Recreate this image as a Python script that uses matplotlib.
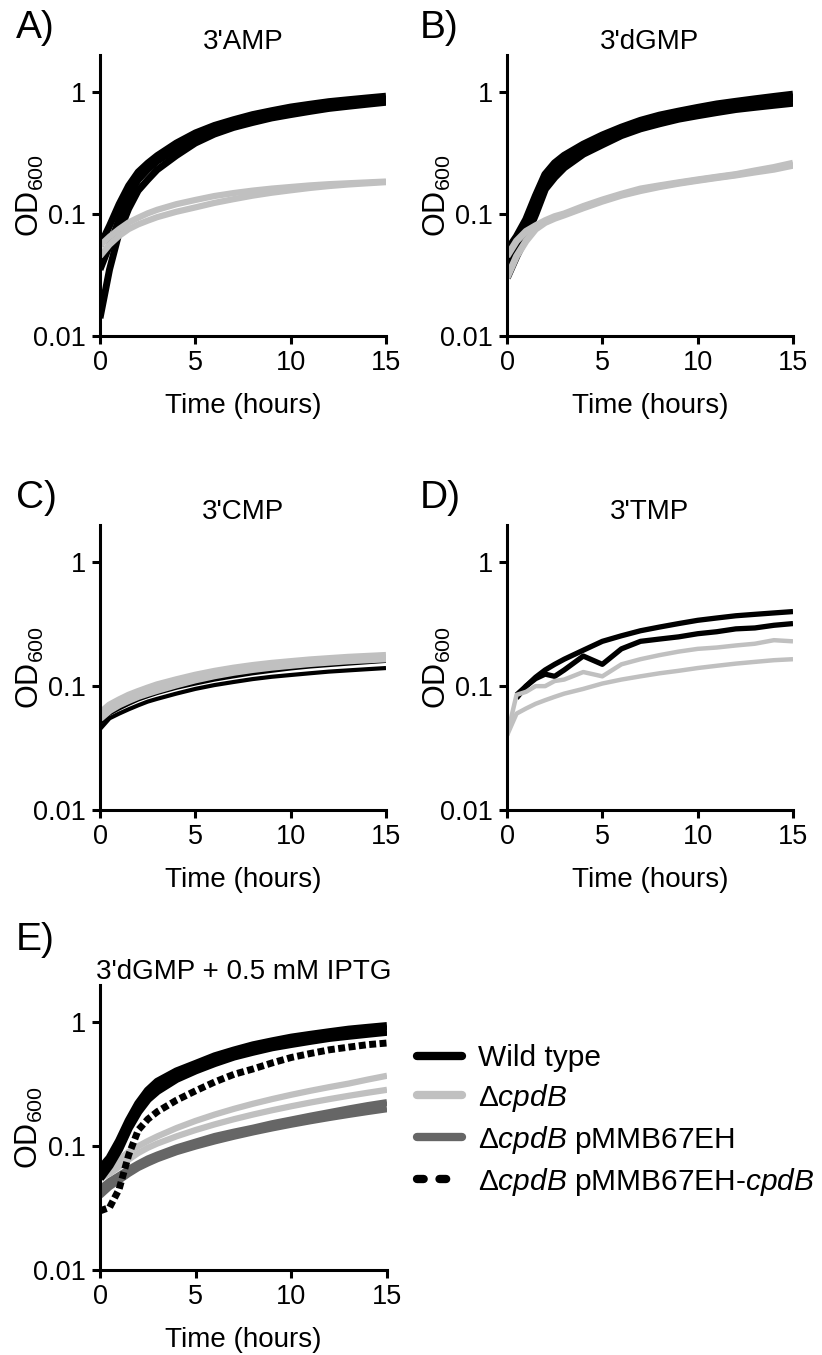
import matplotlib
matplotlib.use("Agg")
import matplotlib.pyplot as plt
import numpy as np
from matplotlib.lines import Line2D
from matplotlib.ticker import NullLocator

plt.rcParams["font.family"] = ["Liberation Sans", "DejaVu Sans"]
plt.rcParams["mathtext.fontset"] = "custom"
plt.rcParams["mathtext.rm"] = "Liberation Sans"
plt.rcParams["mathtext.it"] = "Liberation Sans:italic"

BLACK = "#000000"
LIGHT = "#c0c0c0"
DARK = "#666666"

# sampling times (hours), shared by every panel
time_h = [0, 0.5, 1, 1.5, 2, 2.5, 3, 4, 5, 6, 7, 8, 9, 10, 11, 12, 13, 14, 15]

# A) 3'AMP
amp_wt = [
    [0.055, 0.08, 0.12, 0.17, 0.22, 0.26, 0.30, 0.38, 0.46, 0.53, 0.59, 0.65, 0.70, 0.75, 0.79, 0.83, 0.86, 0.89, 0.92],
    [0.035, 0.055, 0.09, 0.14, 0.19, 0.23, 0.27, 0.34, 0.41, 0.48, 0.54, 0.59, 0.64, 0.68, 0.72, 0.76, 0.79, 0.82, 0.85],
    [0.014, 0.035, 0.07, 0.11, 0.155, 0.19, 0.23, 0.30, 0.38, 0.45, 0.51, 0.56, 0.61, 0.65, 0.69, 0.73, 0.76, 0.79, 0.82],
]
amp_dcpdb = [
    [0.055, 0.065, 0.075, 0.085, 0.093, 0.101, 0.108, 0.12, 0.13, 0.14, 0.148, 0.155, 0.161, 0.166, 0.171, 0.175, 0.178, 0.181, 0.184],
    [0.045, 0.056, 0.066, 0.075, 0.082, 0.088, 0.094, 0.104, 0.113, 0.123, 0.132, 0.141, 0.149, 0.156, 0.163, 0.169, 0.174, 0.178, 0.182],
]

# B) 3'dGMP
dgmp_wt = [
    [0.05, 0.065, 0.09, 0.14, 0.21, 0.26, 0.30, 0.37, 0.44, 0.51, 0.58, 0.64, 0.69, 0.74, 0.79, 0.83, 0.87, 0.91, 0.95],
    [0.04, 0.055, 0.075, 0.12, 0.18, 0.23, 0.27, 0.34, 0.41, 0.48, 0.54, 0.60, 0.65, 0.70, 0.74, 0.78, 0.82, 0.85, 0.88],
    [0.03, 0.045, 0.065, 0.10, 0.16, 0.20, 0.24, 0.31, 0.37, 0.44, 0.50, 0.55, 0.60, 0.64, 0.68, 0.72, 0.75, 0.78, 0.81],
]
dgmp_dcpdb = [
    [0.045, 0.06, 0.072, 0.08, 0.088, 0.095, 0.10, 0.115, 0.13, 0.145, 0.16, 0.17, 0.18, 0.19, 0.20, 0.21, 0.225, 0.24, 0.26],
    [0.03, 0.045, 0.06, 0.075, 0.085, 0.092, 0.098, 0.112, 0.127, 0.142, 0.155, 0.167, 0.178, 0.188, 0.198, 0.208, 0.22, 0.232, 0.25],
]

# C) 3'CMP
cmp_wt = [
    [0.05, 0.06, 0.066, 0.072, 0.078, 0.083, 0.088, 0.097, 0.105, 0.113, 0.12, 0.127, 0.133, 0.139, 0.144, 0.148, 0.152, 0.156, 0.16],
    [0.045, 0.055, 0.06, 0.065, 0.07, 0.075, 0.079, 0.087, 0.095, 0.102, 0.108, 0.114, 0.119, 0.123, 0.127, 0.131, 0.134, 0.137, 0.14],
]
cmp_dcpdb = [
    [0.06, 0.07, 0.077, 0.084, 0.09, 0.096, 0.102, 0.112, 0.122, 0.131, 0.139, 0.146, 0.152, 0.157, 0.162, 0.166, 0.17, 0.173, 0.176],
    [0.055, 0.064, 0.071, 0.077, 0.083, 0.088, 0.093, 0.103, 0.113, 0.122, 0.13, 0.137, 0.143, 0.148, 0.153, 0.157, 0.161, 0.164, 0.167],
]

# D) 3'TMP
tmp_wt = [
    [np.nan, 0.085, 0.10, 0.118, 0.135, 0.15, 0.165, 0.195, 0.23, 0.255, 0.28, 0.30, 0.32, 0.34, 0.355, 0.37, 0.38, 0.39, 0.40],
    [np.nan, 0.08, 0.10, 0.115, 0.125, 0.12, 0.135, 0.175, 0.15, 0.20, 0.23, 0.24, 0.25, 0.265, 0.275, 0.29, 0.295, 0.31, 0.32],
]
tmp_dcpdb = [
    [0.04, 0.085, 0.09, 0.10, 0.10, 0.11, 0.113, 0.13, 0.12, 0.15, 0.165, 0.178, 0.19, 0.20, 0.205, 0.213, 0.22, 0.235, 0.23],
    [0.04, 0.06, 0.066, 0.072, 0.077, 0.082, 0.087, 0.095, 0.105, 0.113, 0.12, 0.127, 0.133, 0.14, 0.146, 0.152, 0.157, 0.162, 0.165],
]

# E) 3'dGMP + 0.5 mM IPTG
iptg_wt = [
    [0.065, 0.08, 0.11, 0.16, 0.22, 0.28, 0.33, 0.40, 0.46, 0.53, 0.59, 0.65, 0.70, 0.75, 0.79, 0.83, 0.87, 0.90, 0.93],
    [0.055, 0.07, 0.095, 0.14, 0.19, 0.24, 0.28, 0.35, 0.41, 0.47, 0.53, 0.58, 0.63, 0.67, 0.71, 0.75, 0.78, 0.81, 0.84],
]
iptg_dcpdb = [
    [0.06, 0.068, 0.078, 0.09, 0.10, 0.11, 0.12, 0.14, 0.16, 0.18, 0.20, 0.22, 0.24, 0.26, 0.28, 0.30, 0.32, 0.345, 0.37],
    [0.055, 0.06, 0.068, 0.078, 0.088, 0.097, 0.105, 0.12, 0.135, 0.15, 0.165, 0.18, 0.195, 0.21, 0.225, 0.24, 0.255, 0.27, 0.285],
]
iptg_vector = [
    [0.045, 0.052, 0.058, 0.065, 0.072, 0.079, 0.085, 0.097, 0.108, 0.12, 0.13, 0.14, 0.152, 0.163, 0.175, 0.187, 0.20, 0.213, 0.225],
    [0.04, 0.047, 0.053, 0.06, 0.067, 0.073, 0.079, 0.09, 0.10, 0.11, 0.12, 0.13, 0.14, 0.15, 0.16, 0.17, 0.18, 0.19, 0.20],
]
iptg_complement = [
    [0.03, 0.032, 0.045, 0.085, 0.135, 0.165, 0.19, 0.235, 0.28, 0.33, 0.38, 0.42, 0.47, 0.52, 0.56, 0.60, 0.63, 0.66, 0.68],
]

legend_labels = [
    "Wild type",
    "Δ$\\mathit{cpdB}$",
    "Δ$\\mathit{cpdB}$ pMMB67EH",
    "Δ$\\mathit{cpdB}$ pMMB67EH-$\\mathit{cpdB}$",
]

FIG_W, FIG_H = 822, 1355


def px_axes(fig, left, right, top, bottom):
    return fig.add_axes([left / FIG_W, 1 - bottom / FIG_H,
                         (right - left) / FIG_W, (bottom - top) / FIG_H])


def style_axis(ax, title):
    ax.set_yscale("log")
    ax.set_ylim(0.01, 2)
    ax.set_xlim(0, 15)
    ax.set_xticks([0, 5, 10, 15])
    ax.set_yticks([0.01, 0.1, 1])
    ax.set_yticklabels(["0.01", "0.1", "1"])
    ax.yaxis.set_minor_locator(NullLocator())
    for side in ["top", "right"]:
        ax.spines[side].set_visible(False)
    for side in ["left", "bottom"]:
        ax.spines[side].set_linewidth(2.2)
    ax.tick_params(width=2.2, length=6, labelsize=19.5, pad=4)
    ax.set_xlabel("Time (hours)", fontsize=20, labelpad=12)
    ax.set_ylabel("OD$_{600}$", fontsize=22)
    # label sits left of the tick labels, its subscript just above "0.1"
    ax.yaxis.set_label_coords(-0.19, 0.5)
    ax.set_title(title, fontsize=20, pad=4)


def draw(ax, reps, color, lw, **kw):
    for r in reps:
        ax.plot(time_h, r, color=color, lw=lw, solid_capstyle="butt", **kw)


def main():
    fig = plt.figure(figsize=(FIG_W / 100, FIG_H / 100), dpi=100)

    ax_a = px_axes(fig, 100, 386, 55, 336)
    draw(ax_a, amp_wt, BLACK, 5)
    draw(ax_a, amp_dcpdb, LIGHT, 4.5)
    style_axis(ax_a, "3'AMP")

    ax_b = px_axes(fig, 507, 793, 55, 336)
    draw(ax_b, dgmp_wt, BLACK, 5.5)
    draw(ax_b, dgmp_dcpdb, LIGHT, 5)
    style_axis(ax_b, "3'dGMP")

    ax_c = px_axes(fig, 100, 386, 525, 810)
    draw(ax_c, cmp_wt, BLACK, 3)
    draw(ax_c, cmp_dcpdb, LIGHT, 5.5)
    style_axis(ax_c, "3'CMP")

    ax_d = px_axes(fig, 507, 793, 525, 810)
    draw(ax_d, tmp_wt, BLACK, 3.8)
    draw(ax_d, tmp_dcpdb, LIGHT, 3.2)
    style_axis(ax_d, "3'TMP")

    ax_e = px_axes(fig, 100, 387, 985, 1270)
    draw(ax_e, iptg_vector, DARK, 5)
    draw(ax_e, iptg_dcpdb, LIGHT, 4.5)
    draw(ax_e, iptg_wt, BLACK, 6)
    for r in iptg_complement:
        ax_e.plot(time_h, r, color=BLACK, lw=5, dashes=(1, 0.5),
                  dash_capstyle="butt")
    style_axis(ax_e, "3'dGMP + 0.5 mM IPTG")

    for lab, x, y in [("A)", 16, 10), ("B)", 420, 10), ("C)", 16, 480),
                      ("D)", 420, 480), ("E)", 16, 922)]:
        fig.text(x / FIG_W, 1 - y / FIG_H, lab, fontsize=28,
                 ha="left", va="top")

    handles = [
        Line2D([], [], color=BLACK, lw=6, solid_capstyle="round"),
        Line2D([], [], color=LIGHT, lw=6, solid_capstyle="round"),
        Line2D([], [], color=DARK, lw=6, solid_capstyle="round"),
        Line2D([], [], color=BLACK, lw=6, dashes=(0.8, 1.9),
               dash_capstyle="round"),
    ]
    fig.legend(handles, legend_labels, loc="upper left",
               bbox_to_anchor=(417 / FIG_W, 1 - 1044 / FIG_H),
               frameon=False, fontsize=21.5, handlelength=1.5,
               handletextpad=0.53, labelspacing=0.33, borderpad=0,
               borderaxespad=0)

    fig.savefig("out.png", dpi=100)


if __name__ == "__main__":
    main()
